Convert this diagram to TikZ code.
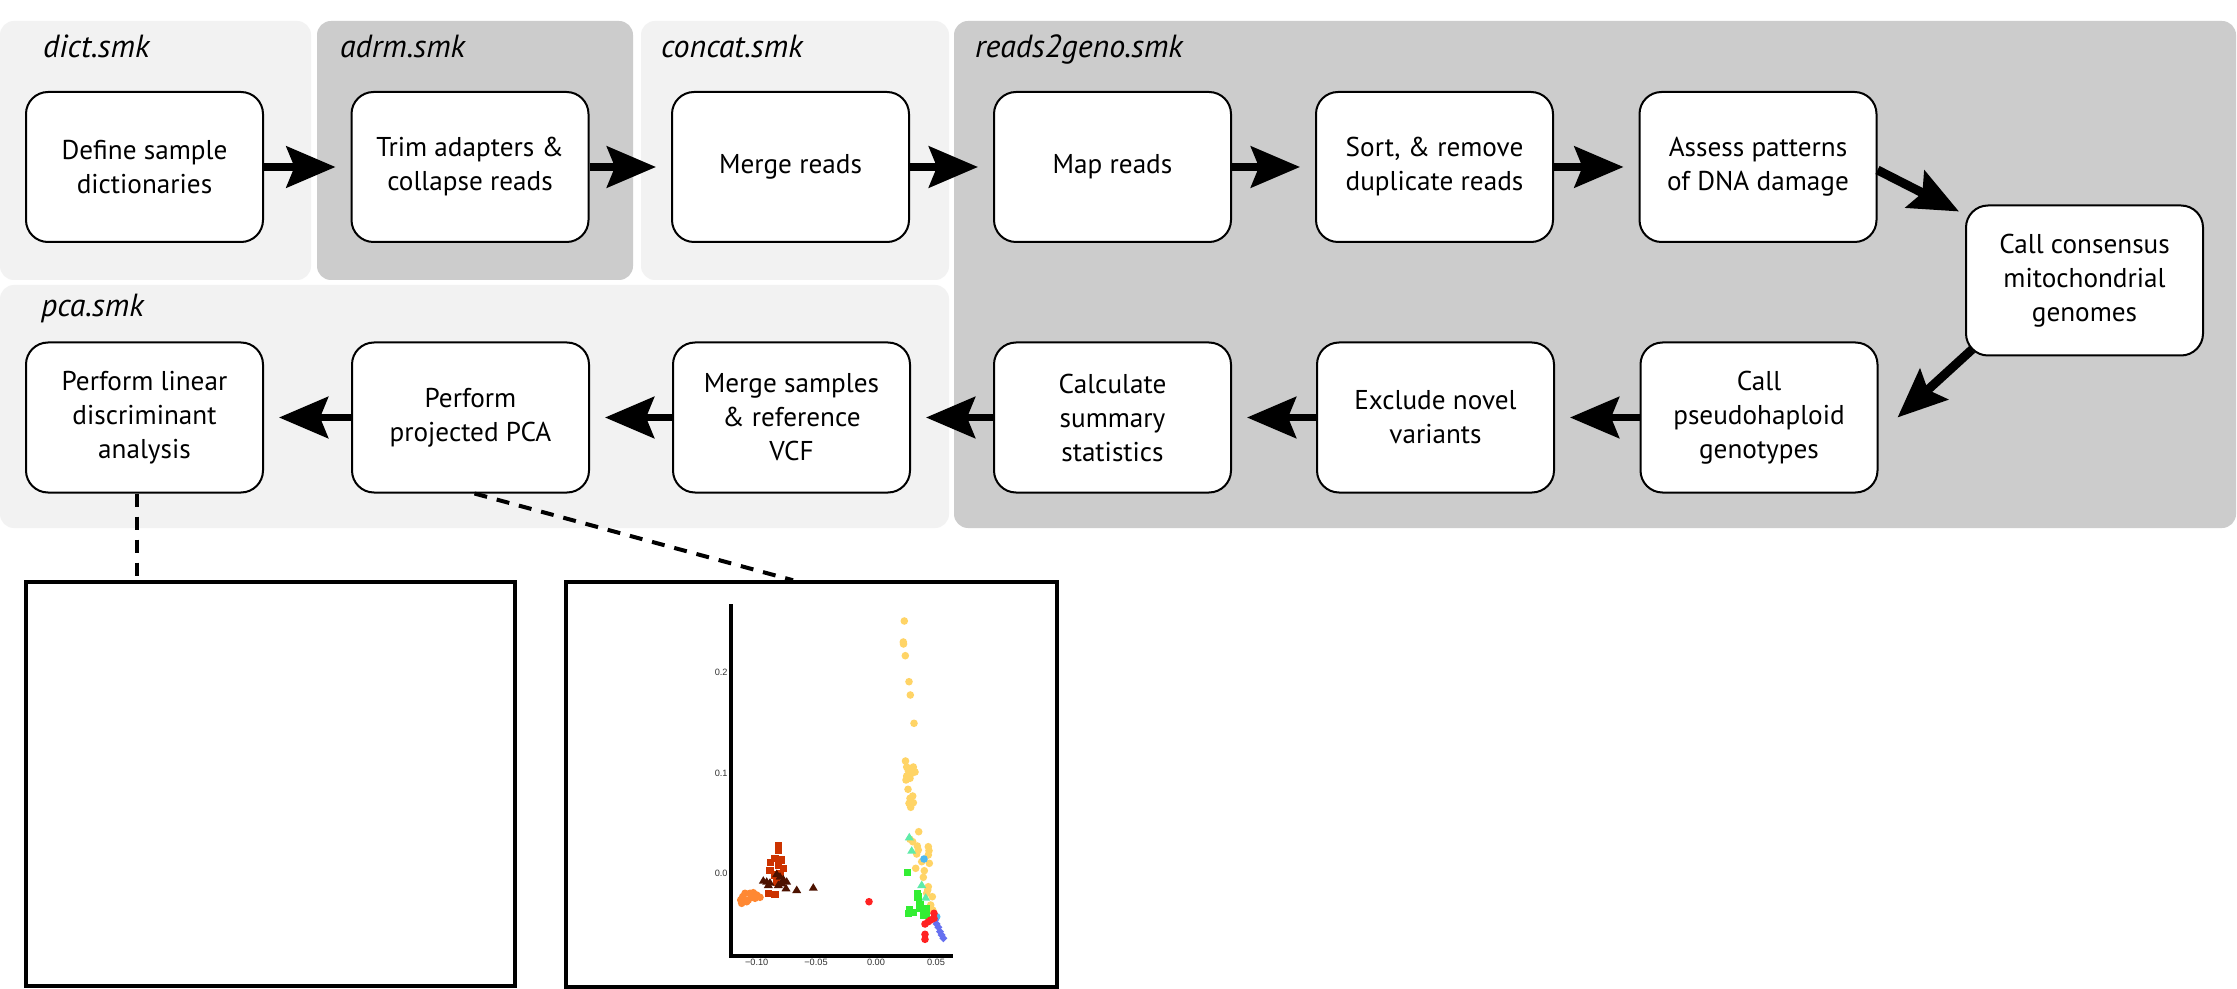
\documentclass[tikz,border=0pt]{standalone}
\usepackage{fontspec}
\setmainfont{PT Sans}
\newfontfamily\tickfont{Liberation Sans}
\usetikzlibrary{arrows.meta}
\definecolor{panellight}{HTML}{F2F2F2}
\definecolor{paneldark}{HTML}{CCCCCC}
\definecolor{cyellow}{HTML}{FFD466}
\definecolor{cmint}{HTML}{5EEBA8}
\definecolor{cblue}{HTML}{4DB8F0}
\definecolor{cgreen}{HTML}{33EE33}
\definecolor{cred}{HTML}{FF2222}
\definecolor{cpurple}{HTML}{6670F0}
\definecolor{corange}{HTML}{FF8833}
\definecolor{cdkorange}{HTML}{CC3300}
\definecolor{cbrown}{HTML}{4D1200}
\definecolor{ticktext}{HTML}{333333}
\newcommand\pdot[3]{\fill[#1] (#2,#3) circle[radius=1.9pt];}
\newcommand\psq[3]{\fill[#1] ([xshift=-1.8pt,yshift=-1.8pt]#2,#3) rectangle ([xshift=1.8pt,yshift=1.8pt]#2,#3);}
\newcommand\ptri[3]{\fill[#1] (#2,#3) ++(0,-4.5) -- ++(-4.5,7.5) -- ++(9,0) -- cycle;}
\newcommand\pdia[3]{\fill[#1] (#2,#3) ++(0,-4) -- ++(4,4) -- ++(-4,4) -- ++(-4,-4) -- cycle;}
\begin{document}
\begin{tikzpicture}[x=0.5pt,y=-0.5pt,
  panel/.style={rounded corners=7pt},
  paneltitle/.style={anchor=base west, font=\fontsize{16}{19}\selectfont\itshape},
  stepbox/.style={draw=black, line width=1pt, fill=white, rounded corners=11pt,
    minimum width=118.5pt, minimum height=75pt, align=center, inner sep=0pt,
    font=\fontsize{13.6}{17}\selectfont},
  arr/.style={line width=3.75pt, -{Stealth[length=24.5pt, width=20.5pt, inset=4pt]}},
  darr/.style={line width=4.5pt, -{Stealth[length=24.5pt, width=20.5pt, inset=4pt]}},
  dashline/.style={line width=2pt, dash pattern=on 6.5pt off 5pt},
  plotframe/.style={draw=black, line width=1.75pt, inner sep=0pt},
  ticklab/.style={font=\tickfont\fontsize{4.6}{5}\selectfont, text=ticktext, inner sep=0pt}
]
\useasboundingbox[fill=white] (0,0) rectangle (2237,989);

% panels
\fill[panellight, panel] (0,21) rectangle (311,280);
\fill[paneldark, panel] (317,21) rectangle (633,280);
\fill[panellight, panel] (641,21) rectangle (949,280);
\fill[paneldark, panel] (954,21) rectangle (2236,528);
\fill[panellight, panel] (0,285) rectangle (949,528);

\node[paneltitle] at (36,58) {dict.smk};
\node[paneltitle] at (333,58) {adrm.smk};
\node[paneltitle] at (654,58) {concat.smk};
\node[paneltitle] at (968,58) {reads2geno.smk};
\node[paneltitle] at (34,317) {pca.smk};

% steps
\node[stepbox] (b1) at (144.5,167) {Define sample\\dictionaries};
\node[stepbox] (b2) at (470,167) {Trim adapters \&\\collapse reads};
\node[stepbox] (b3) at (790.5,167) {Merge reads};
\node[stepbox] (b4) at (1112.5,167) {Map reads};
\node[stepbox] (b5) at (1434.5,167) {Sort, \& remove\\duplicate reads};
\node[stepbox] (b6) at (1758,167) {Assess patterns\\of DNA damage};
\node[stepbox] (b7) at (2084.5,280.5) {Call consensus\\mitochondrial\\genomes};
\node[stepbox] (b8) at (1759,417.5) {Call\\pseudohaploid\\genotypes};
\node[stepbox] (b9) at (1435.5,417.5) {Exclude novel\\variants};
\node[stepbox] (b10) at (1112.5,417.5) {Calculate\\summary\\statistics};
\node[stepbox] (b11) at (791.5,417.5) {Merge samples\\\& reference\\VCF};
\node[stepbox] (b12) at (470.5,417.5) {Perform\\projected PCA};
\node[stepbox] (b13) at (144.5,417.5) {Perform linear\\discriminant\\analysis};

% arrows
\foreach \a/\b in {b1/b2,b2/b3,b3/b4,b4/b5,b5/b6,b8/b9,b9/b10,b10/b11,b11/b12,b12/b13}
  {\draw[arr, shorten >=7.5pt] (\a) -- (\b);}
\draw[darr] ([yshift=-1.5pt]b6.east) -- ([xshift=-3pt,yshift=-3.5pt]b7.north west);
\draw[darr] ([xshift=3.5pt,yshift=3.5pt]b7.south west) -- ([xshift=9.5pt]b8.east);

% plot frames
\node[plotframe, minimum width=244.5pt, minimum height=202pt] (ldaplot) at (270.5,784) {};
\node[plotframe, minimum width=245.5pt, minimum height=202.5pt] (pcaplot) at (811.5,784.5) {};

\draw[dashline] ([xshift=-3.75pt]b13.south) -- ([xshift=-3.75pt]b13.south |- ldaplot.north);
\draw[dashline] ([xshift=2pt]b12.south) -- ([xshift=-9.25pt]pcaplot.north);

% PCA scatter axes
\draw[line width=2pt, line join=miter] (731,604) -- (731,955.5) -- (953,955.5);
\node[ticklab, anchor=east] at (728,672) {0.2};
\node[ticklab, anchor=east] at (728,773) {0.1};
\node[ticklab, anchor=east] at (728,873) {0.0};
\node[ticklab] at (756.7,962.5) {\textminus0.10};
\node[ticklab] at (816,962.5) {\textminus0.05};
\node[ticklab] at (876,962.5) {0.00};
\node[ticklab] at (936,962.5) {0.05};

% points
\foreach \x/\y in {741.7/903.3,742.7/896.7,745/893.3,748.3/900,751.7/896.7,753.3/892.7,756.7/895,760/897.3,750/893.3,746.7/901.7,755/898.3,740.7/900}
  {\pdot{corange}{\x}{\y}}
\foreach \x/\y in {778.3/846,778.3/850,775/858.3,770.7/862.7,781.7/860,778.3/865,770/870.7,783.3/868.3,780/873.3,775/875,768.3/893.3,775/894.3,776.7/882.7}
  {\psq{cdkorange}{\x}{\y}}
\foreach \x/\y in {763.3/880.7,766.7/881.7,770/882.7,776.7/874,780/876.7,783.3/879.3,786.7/881.7,781.7/883.3,778.3/885,786/888.3,796.7/890,813.3/887.7,768.3/885}
  {\ptri{cbrown}{\x}{\y}}
\foreach \x/\y in {904.3/621,903.3/642,903.5/644,905.3/655.7,909/681.7,910.3/695,914/723.3,905.5/761,906.7/767,913.3/767,908.3/770.7,911.7/773.3,906.7/776,910/778.3,906/780,913.3/770,915/772,908/789.3,912.7/796,910/798.3,913.3/802.7,909/803.3,910.7/807.3,918.7/831.7,910/839.3,912.7/841.7,917.3/846,918.3/850,916.7/854,928.3/846.7,929/850.7,928.3/855,921.7/861.7,929.3/863.3,915.7/868.3,924.3/870.7,923.3/877.3,928.3/886.7,927.7/890,926.7/893.3,932.3/896.7,930.7/905,932.7/910}
  {\pdot{cyellow}{\x}{\y}}
\foreach \x/\y in {909.3/837.3,911.7/850.7,921.7/885,925.7/897.7}
  {\ptri{cmint}{\x}{\y}}
\foreach \x/\y in {924/859,936.7/916.7}
  {\pdot{cblue}{\x}{\y}}
\foreach \x/\y in {907.7/872.3,917.3/894,918/897,920/905,921/908.3,909.3/909.3,908.3/913.3,913.3/912.3,925/913.3,923.3/915.7,926.7/914.3,926.7/908.3}
  {\psq{cgreen}{\x}{\y}}
\foreach \x/\y in {935/920,936.7/924,938.3/927.3,940/931.7,941.7/935,943.3/938.3}
  {\pdia{cpurple}{\x}{\y}}
\foreach \x/\y in {869/901.7,934/913.3,925/924,928.3/921.7,930.7/920,934/918.3,925/934.3,925/939.3}
  {\pdot{cred}{\x}{\y}}
\end{tikzpicture}
\end{document}
